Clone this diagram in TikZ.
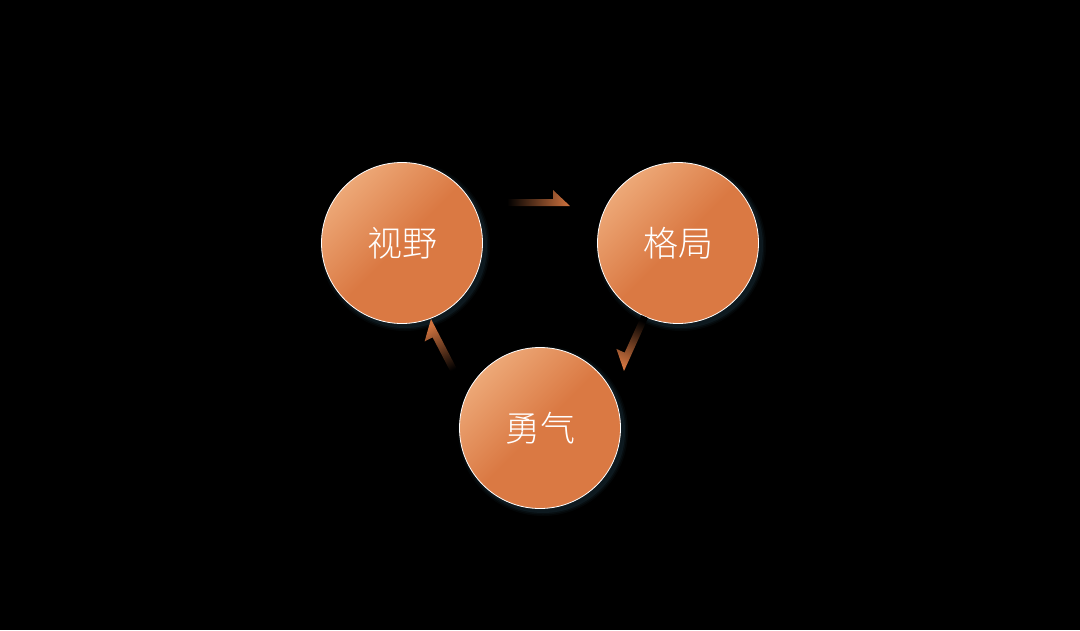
\documentclass[tikz,border=0pt]{standalone}
\usepackage{fontspec}
\newfontfamily\cjk{Noto Sans CJK SC Light}
\usepackage{tikz}
\usetikzlibrary{calc}
\definecolor{ballmain}{HTML}{DA7943}
\definecolor{balllight}{HTML}{EDA877}
\definecolor{arrowtip}{HTML}{D0733F}
\definecolor{glow}{HTML}{1C3340}

\newcommand\halfarrow[4]{%
  \shade[bottom color=black, top color=arrowtip, shading angle=#4]
    (#1) -- (#2) -- ($(#2)!17pt!(#1)!16pt!#3:(#1)$) -- ($(#2)!17pt!(#1)!7pt!#3:(#1)$)
    -- ($(#1)!-7pt!#3:(#2)$) -- cycle;}

\begin{document}
\begin{tikzpicture}[x=1pt, y=-1pt,
                    ball/.style={circle, minimum size=161pt, inner sep=0pt,
                                 draw=white, line width=0.8pt,
                                 top color=balllight, bottom color=ballmain,
                                 middle color=ballmain, shading angle=45,
                                 text=white, font=\cjk\fontsize{35}{42}\selectfont}]
  \useasboundingbox (0,0) rectangle (1080,630);
  \fill[black] (0,0) rectangle (1080,630);
  \coordinate (c1) at (402,243);
  \coordinate (c2) at (678,243);
  \coordinate (c3) at (540,428);
  \foreach \c in {c1,c2,c3}
    \foreach \r/\o in {85/0.12, 83.5/0.18, 82/0.3}
      \fill[glow, opacity=\o] ($(\c)+(3,3)$) circle (\r);
  \node[ball] (shiye) at (c1) {视野};
  \node[ball] (geju) at (c2) {格局};
  \node[ball] (yongqi) at (c3) {勇气};
  \coordinate (t1) at (507,206);
  \coordinate (h1) at (570,206);
  \coordinate (t2) at (648,318);
  \coordinate (h2) at (624,371);
  \coordinate (t3) at (459,373);
  \coordinate (h3) at (431,319);
  \halfarrow{t1}{h1}{-90}{-90}
  \halfarrow{t2}{h2}{90}{155}
  \halfarrow{t3}{h3}{-90}{28}
\end{tikzpicture}
\end{document}
